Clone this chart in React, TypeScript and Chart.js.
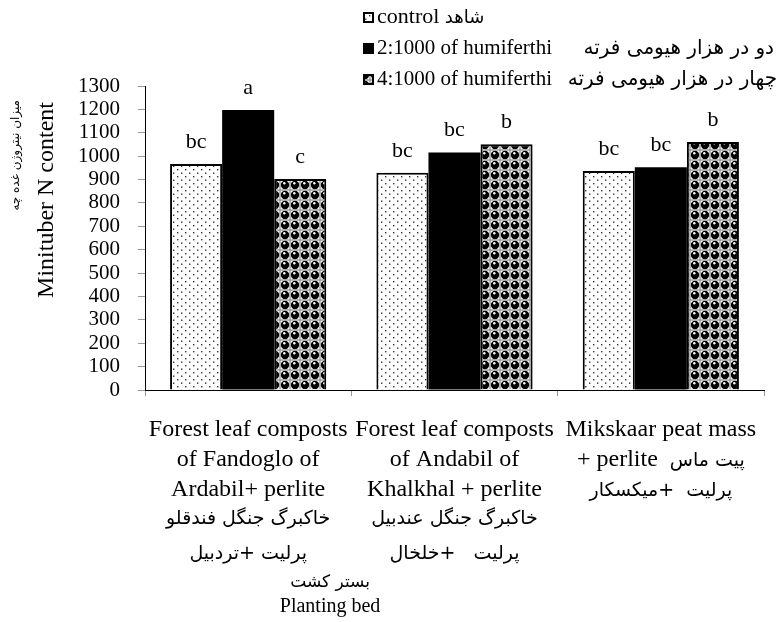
import React, { useEffect, useRef } from 'react';
import { Chart, registerables } from 'chart.js';

Chart.register(...registerables);

// ---------- data ----------
const categoryLines: string[][] = [
  ['Forest leaf composts', 'of Fandoglo of', 'Ardabil+ perlite', 'خاکبرگ جنگل فندقلو', 'پرلیت +تردبیل'],
  ['Forest leaf composts', 'of Andabil of', 'Khalkhal + perlite', 'خاکبرگ جنگل عندبیل', 'پرلیت   +خلخال'],
  ['Mikskaar peat mass', '+ perlite  پیت ماس', 'پرلیت  +میکسکار'],
];
const seriesNames = [
  'control شاهد',
  '2:1000 of humiferthi      دو در هزار هیومی فرته',
  '4:1000 of humiferthi   چهار در هزار هیومی فرته',
];
const controlValues = [966, 929, 937];
const humi2Values = [1197, 1016, 953];
const humi4Values = [902, 1051, 1060];
const controlLetters = ['bc', 'bc', 'bc'];
const humi2Letters = ['a', 'bc', 'bc'];
const humi4Letters = ['c', 'b', 'b'];
const yTitleLines = ['میزان نیتروژن غده چه', 'Minituber N content'];
const xTitleLines = ['بستر کشت', 'Planting bed'];
const yMin = 0;
const yMax = 1300;
const yStep = 100;

// ---------- helpers ----------
const LATIN = "'Liberation Serif', 'Times New Roman', serif";
const ARABIC = "'DejaVu Sans', sans-serif";
const isArabic = (s: string) => /[\u0600-\u06FF]/.test(s);
const hasLatin = (s: string) => /[A-Za-z0-9]/.test(s);

function splitRuns(s: string): string[] {
  if (!isArabic(s) || !hasLatin(s)) return [s];
  return s.match(/[\u0600-\u06FF]+(?:\s+[\u0600-\u06FF]+)*|[^\u0600-\u06FF]+/g) || [s];
}

function drawMixed(
  ctx: CanvasRenderingContext2D,
  s: string,
  x: number,
  y: number,
  align: 'left' | 'center' | 'right',
  latinSize: number,
  arabicSize: number
) {
  const runs = splitRuns(s);
  const fontFor = (r: string) => (isArabic(r) ? `${arabicSize}px ${ARABIC}` : `${latinSize}px ${LATIN}`);
  const widths = runs.map((r) => {
    ctx.font = fontFor(r);
    return ctx.measureText(r).width;
  });
  const total = widths.reduce((a, b) => a + b, 0);
  let cx = align === 'center' ? x - total / 2 : align === 'right' ? x - total : x;
  ctx.textAlign = 'left';
  runs.forEach((r, i) => {
    ctx.font = fontFor(r);
    ctx.fillText(r, cx, y);
    cx += widths[i];
  });
}

function makeDotPattern(ctx: CanvasRenderingContext2D) {
  const c = document.createElement('canvas');
  c.width = 8;
  c.height = 7;
  const g = c.getContext('2d')!;
  g.fillStyle = '#fff';
  g.fillRect(0, 0, 8, 7);
  g.fillStyle = '#333';
  g.fillRect(1, 1, 1.4, 1.4);
  g.fillRect(5, 4.5, 1.4, 1.4);
  return ctx.createPattern(c, 'repeat')!;
}

function makeBallPattern(ctx: CanvasRenderingContext2D) {
  const c = document.createElement('canvas');
  c.width = 10;
  c.height = 10;
  const g = c.getContext('2d')!;
  g.fillStyle = '#fff';
  g.fillRect(0, 0, 10, 10);
  g.fillStyle = '#000';
  g.beginPath();
  g.arc(5, 5, 4.2, 0, Math.PI * 2);
  g.fill();
  g.fillStyle = '#fff';
  g.beginPath();
  g.arc(4.3, 3.3, 1.2, 0, Math.PI * 2);
  g.fill();
  g.strokeStyle = '#888';
  g.lineWidth = 0.6;
  g.strokeRect(0.3, 0.3, 9.4, 9.4);
  return ctx.createPattern(c, 'repeat')!;
}

export default function App() {
  const ref = useRef<HTMLCanvasElement | null>(null);

  useEffect(() => {
    document.body.style.margin = '0';
    const canvas = ref.current!;
    const ctx0 = canvas.getContext('2d')!;
    const dots = makeDotPattern(ctx0);
    const balls = makeBallPattern(ctx0);
    const fills: any[] = [dots, '#000', balls];
    const letters = [controlLetters, humi2Letters, humi4Letters];

    const overlay = {
      id: 'overlay',
      afterDraw(chart: any) {
        const ctx: CanvasRenderingContext2D = chart.ctx;
        const xs = chart.scales.x;
        const area = chart.chartArea;
        ctx.save();
        ctx.fillStyle = '#000';
        ctx.textBaseline = 'alphabetic';

        // significance letters
        chart.data.datasets.forEach((_: any, di: number) => {
          const meta = chart.getDatasetMeta(di);
          meta.data.forEach((el: any, j: number) => {
            ctx.font = `22px ${LATIN}`;
            ctx.textAlign = 'center';
            ctx.fillText(letters[di][j], el.x, el.y - 16);
          });
        });

        // category labels
        const lineOffsets = [46, 76, 106, 134, 169];
        categoryLines.forEach((lines, i) => {
          const cx = xs.getPixelForTick(i);
          lines.forEach((ln, k) => {
            drawMixed(ctx, ln, cx, area.bottom + lineOffsets[k], 'center', 24, 19);
          });
        });

        // x title
        const tx = area.left + (area.right - area.left) * 0.299;
        drawMixed(ctx, xTitleLines[0], tx, area.bottom + 197, 'center', 20, 17);
        drawMixed(ctx, xTitleLines[1], tx, area.bottom + 222, 'center', 20, 17);

        // y title (rotated)
        ctx.save();
        ctx.translate(16, area.top + 14);
        ctx.rotate(-Math.PI / 2);
        ctx.textAlign = 'right';
        ctx.textBaseline = 'middle';
        ctx.font = `12px ${ARABIC}`;
        ctx.fillText(yTitleLines[0], 0, 0);
        ctx.restore();
        ctx.save();
        ctx.translate(47, area.top + 16);
        ctx.rotate(-Math.PI / 2);
        ctx.textAlign = 'right';
        ctx.textBaseline = 'middle';
        ctx.font = `24px ${LATIN}`;
        ctx.fillText(yTitleLines[1], 0, 0);
        ctx.restore();

        // legend
        const baselines = [23, 54, 85];
        chart.data.datasets.forEach((ds: any, di: number) => {
          const by = baselines[di];
          const bx = 363;
          ctx.fillStyle = fills[di];
          ctx.fillRect(bx, by - 11, 11, 11);
          ctx.strokeStyle = '#000';
          ctx.lineWidth = 2;
          ctx.strokeRect(bx + 1, by - 10, 9, 9);
          ctx.fillStyle = '#000';
          drawMixed(ctx, ds.label, bx + 14, by, 'left', di === 0 ? 22 : 21, di === 0 ? 18 : 20);
        });
        ctx.restore();
      },
    };

    const chart = new Chart(canvas, {
      type: 'bar',
      data: {
        labels: categoryLines.map((l) => l[0]),
        datasets: [
          {
            label: seriesNames[0],
            data: controlValues,
            backgroundColor: dots,
            borderColor: '#000',
            borderWidth: 2,
          },
          {
            label: seriesNames[1],
            data: humi2Values,
            backgroundColor: '#000',
            borderColor: '#000',
            borderWidth: 0,
          },
          {
            label: seriesNames[2],
            data: humi4Values,
            backgroundColor: balls,
            borderColor: '#000',
            borderWidth: 2,
          },
        ],
      },
      options: {
        animation: false,
        responsive: false,
        devicePixelRatio: 1,
        layout: { padding: { left: 0, right: 19, top: 86, bottom: 0 } },
        datasets: { bar: { categoryPercentage: 0.757, barPercentage: 1 } },
        plugins: { legend: { display: false }, tooltip: { enabled: false } },
        scales: {
          x: {
            offset: true,
            grid: {
              display: true,
              offset: true,
              drawOnChartArea: false,
              drawTicks: true,
              tickLength: 6,
              color: '#999',
            },
            border: { display: true, color: '#000', width: 1 },
            ticks: { display: false },
            afterFit: (s: any) => {
              s.height = 232;
            },
          },
          y: {
            min: yMin,
            max: yMax,
            ticks: {
              stepSize: yStep,
              autoSkip: false,
              color: '#000',
              padding: 18,
              font: { family: LATIN, size: 21 },
              callback: (v: any) => String(v),
            },
            grid: { drawOnChartArea: false, tickLength: 7, color: '#999' },
            border: { display: true, color: '#000', width: 1 },
            afterFit: (s: any) => {
              s.width = 145;
            },
          },
        },
      },
      plugins: [overlay],
    });
    return () => chart.destroy();
  }, []);

  return (
    <div style={{ width: 783, height: 622, background: '#fff' }}>
      <canvas ref={ref} width={783} height={622} style={{ display: 'block' }} />
    </div>
  );
}
